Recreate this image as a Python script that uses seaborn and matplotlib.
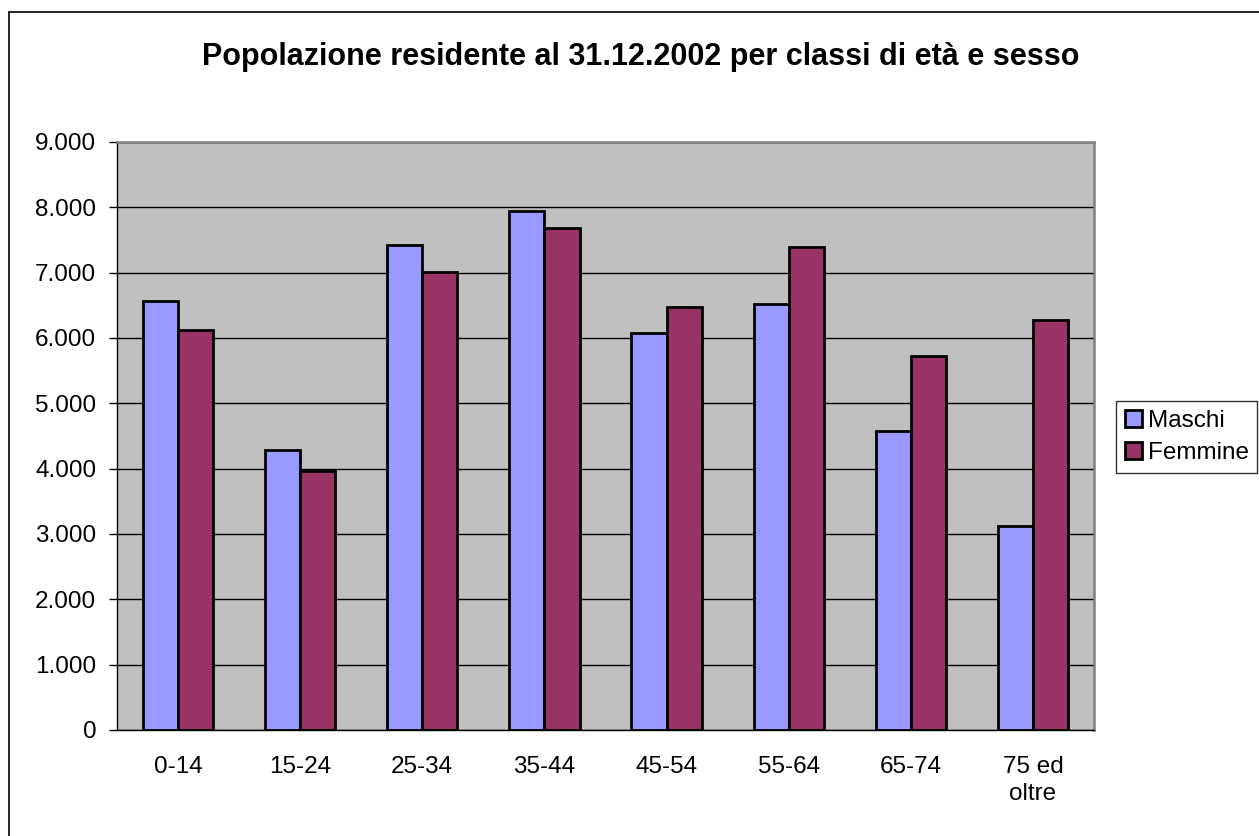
import matplotlib
matplotlib.use("Agg")
import matplotlib.pyplot as plt
from matplotlib.lines import Line2D
import seaborn as sns
import pandas as pd

categorie = ["0-14", "15-24", "25-34", "35-44", "45-54", "55-64", "65-74", "75 ed\noltre"]
maschi = [6560, 4280, 7430, 7950, 6070, 6520, 4580, 3130]
femmine = [6130, 3970, 7010, 7680, 6470, 7400, 5730, 6270]
serie = ["Maschi", "Femmine"]
colori = ["#9999FF", "#993366"]
yticks = [0, 1000, 2000, 3000, 4000, 5000, 6000, 7000, 8000, 9000]
ytick_labels = ["0", "1.000", "2.000", "3.000", "4.000", "5.000", "6.000", "7.000", "8.000", "9.000"]
titolo = "Popolazione residente al 31.12.2002 per classi di età e sesso"

df = pd.DataFrame({
    "classe": categorie * 2,
    "valore": maschi + femmine,
    "sesso": [serie[0]] * len(categorie) + [serie[1]] * len(categorie),
})

sns.set_style("white")
plt.rcParams["font.family"] = ["Liberation Sans", "DejaVu Sans"]
plt.rcParams["text.color"] = "black"
plt.rcParams["xtick.color"] = "black"
plt.rcParams["ytick.color"] = "black"
plt.rcParams["axes.labelcolor"] = "black"

W, H = 1259, 836
fig = plt.figure(figsize=(W / 100, H / 100), dpi=100)
ax = fig.add_axes([117 / W, 1 - 730 / H, (1094 - 117) / W, (730 - 142) / H])
ax.set_facecolor("#C0C0C0")

sns.barplot(data=df, x="classe", y="valore", hue="sesso", palette=colori,
            saturation=1, width=0.575, gap=0, edgecolor="black", linewidth=2,
            ax=ax, legend=True)

ax.set_xlim(-0.5, len(categorie) - 0.5)
ax.set_ylim(0, 9000)
ax.set_yticks(yticks)
ax.set_yticklabels(ytick_labels)
ax.set_xticks(range(len(categorie)))
ax.set_xticklabels(categorie, linespacing=1.25)
ax.set_xticks([i - 0.5 for i in range(len(categorie) + 1)], minor=True)
ax.tick_params(axis="x", which="major", length=0, pad=19, labelsize=17.5, colors="black")
ax.tick_params(axis="x", which="minor", length=6, width=1, direction="out", color="black")
ax.tick_params(axis="y", which="major", length=6, width=1, direction="out", pad=9,
               labelsize=17.5, color="black", left=True, labelcolor="black")
ax.set_xlabel("")
ax.set_ylabel("")

ax.set_axisbelow(True)
ax.yaxis.grid(True, color="black", linewidth=1)
ax.xaxis.grid(False)
for s in ["left", "bottom"]:
    ax.spines[s].set_color("black")
    ax.spines[s].set_linewidth(1)
for s in ["top", "right"]:
    ax.spines[s].set_color("#808080")
    ax.spines[s].set_linewidth(1.8)
for s in ax.spines.values():
    s.set_visible(True)

leg = ax.legend(loc="center left", bbox_to_anchor=(1116 / W, 1 - 437 / H),
                bbox_transform=fig.transFigure, fontsize=17.5, frameon=True,
                fancybox=False, edgecolor="black", handlelength=0.7,
                handleheight=0.7, handletextpad=0.25, borderpad=0.35,
                labelspacing=0.45, borderaxespad=0)
leg.get_frame().set_linewidth(1)
for t in leg.get_texts():
    t.set_color("black")
for h in leg.legend_handles:
    h.set_edgecolor("black")
    h.set_linewidth(2)

fig.text(641 / W, 1 - 57 / H, titolo, ha="center", va="center",
         fontsize=22, fontweight="bold", color="black")

# chart area border (left and top visible)
fig.add_artist(Line2D([9 / W, 9 / W], [0, 1 - 12 / H], transform=fig.transFigure,
                      color="black", linewidth=1.2))
fig.add_artist(Line2D([9 / W, 1], [1 - 12 / H, 1 - 12 / H], transform=fig.transFigure,
                      color="black", linewidth=1.2))

fig.savefig("out.png", dpi=100)
